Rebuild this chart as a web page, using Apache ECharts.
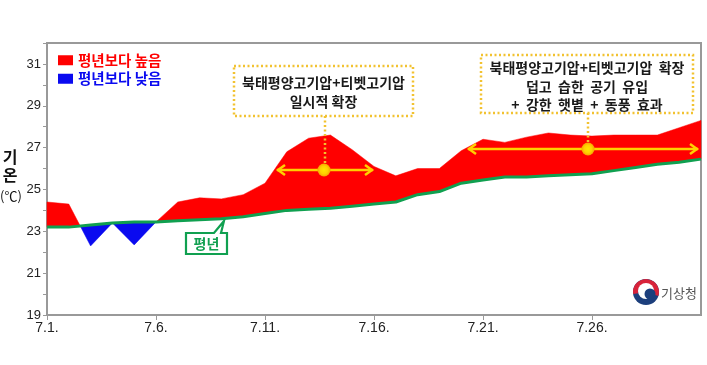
<!DOCTYPE html>
<html><head><meta charset="utf-8">
<script src="https://cdn.jsdelivr.net/npm/echarts@6/dist/echarts.min.js"></script>
<style>html,body{margin:0;padding:0;background:#fff}#c{width:707px;height:365px}</style>
</head><body><div id="c"></div>
<script>
// Daily labels 7.1. .. 7.31.
const dateLabels = ['7.1.','7.2.','7.3.','7.4.','7.5.','7.6.','7.7.','7.8.','7.9.','7.10.','7.11.','7.12.','7.13.','7.14.','7.15.','7.16.','7.17.','7.18.','7.19.','7.20.','7.21.','7.22.','7.23.','7.24.','7.25.','7.26.','7.27.','7.28.','7.29.','7.30.','7.31.'];
// Observed daily mean temperature (°C)
const actual = [24.4,24.3,22.3,23.4,22.35,23.45,24.4,24.6,24.55,24.75,25.3,26.8,27.45,27.6,26.9,26.1,25.65,26.0,26.0,26.85,27.4,27.25,27.5,27.7,27.6,27.55,27.6,27.6,27.6,27.95,28.3];
// Normal (평년) daily mean temperature (°C)
const normal = [23.2,23.2,23.3,23.4,23.45,23.45,23.5,23.55,23.6,23.7,23.85,24.0,24.05,24.1,24.2,24.3,24.4,24.75,24.9,25.3,25.45,25.6,25.6,25.65,25.7,25.75,25.9,26.05,26.2,26.3,26.45];
const yTicks = [19,21,23,25,27,29,31];
const xTickDays = [0,5,10,15,20,25];

const RED = '#ff0000', BLUE = '#0a0af0', GREEN = '#10a050', GOLD = '#f2c230', ARROW = '#ffd000';

// Build runs of same sign between actual and normal
function buildRuns() {
  const pieces = [];
  for (let i = 0; i < actual.length - 1; i++) {
    const d0 = actual[i] - normal[i], d1 = actual[i+1] - normal[i+1];
    if (d0 * d1 < 0) {
      const t = d0 / (d0 - d1);
      const xn = i + t, yn = normal[i] + t * (normal[i+1] - normal[i]);
      pieces.push({sign: Math.sign(d0), pts: [[i, actual[i], normal[i]], [xn, yn, yn]]});
      pieces.push({sign: Math.sign(d1), pts: [[xn, yn, yn], [i+1, actual[i+1], normal[i+1]]]});
    } else {
      const s = Math.sign(d0 + d1);
      pieces.push({sign: s, pts: [[i, actual[i], normal[i]], [i+1, actual[i+1], normal[i+1]]]});
    }
  }
  const runs = [];
  pieces.forEach(p => {
    if (p.sign === 0) return;
    const last = runs[runs.length - 1];
    if (last && last.sign === p.sign && last.pts[last.pts.length-1][0] === p.pts[0][0]) {
      last.pts.push(p.pts[1]);
    } else {
      runs.push({sign: p.sign, pts: p.pts.slice()});
    }
  });
  return runs;
}
const runs = buildRuns();

function makeRender(sign, color) {
  return function (params, api) {
    const children = runs.filter(r => r.sign === sign).map(r => {
      const top = r.pts.map(p => api.coord([p[0], p[1]]));
      const bot = r.pts.slice().reverse().map(p => api.coord([p[0], p[2]]));
      return {type: 'polygon', shape: {points: top.concat(bot)}, style: {fill: color, stroke: color, lineWidth: 0.5}};
    });
    return {type: 'group', children: children};
  };
}

const chart = echarts.init(document.getElementById('c'));
const FONT = '"Noto Sans CJK KR", "Noto Sans", sans-serif';

function dotted(x1, y1, x2, y2) {
  return {type: 'line', shape: {x1, y1, x2, y2}, style: {stroke: GOLD, lineWidth: 2.5, lineDash: [2, 2.5]}, z: 20};
}
function arrow(x1, x2, y) {
  const st = {stroke: ARROW, lineWidth: 2.5, fill: null};
  return [
    {type: 'line', shape: {x1, y1: y, x2, y2: y}, style: st, z: 20},
    {type: 'polyline', shape: {points: [[x1+8, y-5], [x1+1, y], [x1+8, y+5]]}, style: st, z: 20},
    {type: 'polyline', shape: {points: [[x2-8, y-5], [x2-1, y], [x2-8, y+5]]}, style: st, z: 20}
  ];
}
function dot(cx, cy) {
  return {type: 'circle', shape: {cx, cy, r: 6.5}, z: 21,
    style: {fill: new echarts.graphic.RadialGradient(0.5, 0.5, 0.5, [{offset: 0, color: '#ffe600'}, {offset: 0.6, color: '#ffd000'}, {offset: 1, color: '#f5a300'}])}};
}
function boxText(x, y, text) {
  return {type: 'text', x, y, z: 22, style: {text, fill: '#1a1a1a', font: 'bold 14px ' + FONT, align: 'center', verticalAlign: 'middle'}};
}

const graphics = [
  // y axis name
  {type: 'text', x: 10, y: 157, style: {text: '기', fill: '#111', font: 'bold 16px ' + FONT, align: 'center', verticalAlign: 'middle'}},
  {type: 'text', x: 10, y: 175, style: {text: '온', fill: '#111', font: 'bold 16px ' + FONT, align: 'center', verticalAlign: 'middle'}},
  {type: 'text', x: 11, y: 196, style: {text: '(℃)', fill: '#111', font: '13px ' + FONT, align: 'center', verticalAlign: 'middle'}},
  // callout 1
  {type: 'rect', shape: {x: 234, y: 66, width: 179, height: 50}, style: {fill: '#fff', stroke: GOLD, lineWidth: 2.5, lineDash: [2, 2.5]}, z: 20},
  boxText(323.5, 83, '북태평양고기압+티벳고기압'),
  boxText(323.5, 102, '일시적 확장'),
  dotted(325, 116, 325, 165),
  ...arrow(277, 373, 170),
  dot(324, 170),
  // callout 2
  {type: 'rect', shape: {x: 481, y: 55, width: 212, height: 58}, style: {fill: '#fff', stroke: GOLD, lineWidth: 2.5, lineDash: [2, 2.5]}, z: 20},
  boxText(587, 68, '북태평양고기압+티벳고기압  확장'),
  boxText(587, 87, '덥고  습한  공기  유입'),
  boxText(587, 105, '+  강한  햇볕  +  동풍  효과'),
  dotted(588, 113, 588, 144),
  ...arrow(468, 698, 149),
  dot(588, 149),
  // 평년 label
  {type: 'polygon', shape: {points: [[186, 233], [214, 233], [224, 221], [221, 233], [227, 233], [227, 254], [186, 254]]},
    style: {fill: '#fff', stroke: GREEN, lineWidth: 2.2}, z: 20},
  {type: 'text', x: 206.5, y: 243.5, z: 21, style: {text: '평년', fill: GREEN, font: 'bold 14px ' + FONT, align: 'center', verticalAlign: 'middle'}},
  // KMA logo
  {type: 'circle', shape: {cx: 646, cy: 292, r: 13}, style: {fill: '#1c3f7c'}, z: 20},
  {type: 'sector', shape: {cx: 646, cy: 292, r: 13, r0: 8, startAngle: Math.PI * 0.95, endAngle: Math.PI * 2.1}, style: {fill: '#d8233a'}, z: 21},
  {type: 'circle', shape: {cx: 646, cy: 291, r: 8}, style: {fill: '#fff'}, z: 22},
  {type: 'circle', shape: {cx: 650, cy: 294, r: 5.5}, style: {fill: '#1c3f7c'}, z: 23},
  {type: 'text', x: 661, y: 293, z: 21, style: {text: '기상청', fill: '#555', font: '13px ' + FONT, verticalAlign: 'middle'}}
];

chart.setOption({
  animation: false,
  backgroundColor: '#fff',
  grid: {left: 47, right: 6, top: 43, bottom: 50, show: true, borderColor: '#999', borderWidth: 2, backgroundColor: 'transparent'},
  legend: {
    orient: 'vertical', left: 53, top: 48, itemWidth: 15, itemHeight: 10, itemGap: 4, icon: 'rect',
    textStyle: {fontFamily: FONT, fontSize: 14.5, fontWeight: 'bold'},
    data: [{name: '평년보다 높음', textStyle: {color: RED}}, {name: '평년보다 낮음', textStyle: {color: BLUE}}]
  },
  xAxis: {
    type: 'value', min: 0, max: dateLabels.length - 1, interval: 5,
    axisLine: {lineStyle: {color: '#999', width: 2}},
    axisTick: {show: true, length: 5, lineStyle: {color: '#999'}, customValues: xTickDays},
    splitLine: {show: false},
    axisLabel: {fontFamily: '"Liberation Sans", Arial, sans-serif', fontSize: 14, color: '#222', margin: 6,
      customValues: xTickDays, formatter: v => dateLabels[v]}
  },
  yAxis: {
    type: 'value', min: 19, max: 32, interval: 1,
    axisLine: {show: true, lineStyle: {color: '#999', width: 2}},
    axisTick: {show: true, length: 4, lineStyle: {color: '#999'}},
    splitLine: {show: false},
    axisLabel: {fontFamily: '"Liberation Sans", Arial, sans-serif', fontSize: 13, color: '#222', margin: 6,
      formatter: v => yTicks.includes(v) ? String(v) : ''}
  },
  series: [
    {name: '평년보다 높음', type: 'custom', color: RED, renderItem: makeRender(1, RED), data: [[0, normal[0]]], z: 2, silent: true},
    {name: '평년보다 낮음', type: 'custom', color: BLUE, renderItem: makeRender(-1, BLUE), data: [[0, normal[0]]], z: 2, silent: true},
    {name: '평년', type: 'line', data: normal.map((v, i) => [i, v]), showSymbol: false, z: 3,
      lineStyle: {color: GREEN, width: 3}, itemStyle: {color: GREEN}}
  ],
  graphic: graphics
});
</script></body></html>
